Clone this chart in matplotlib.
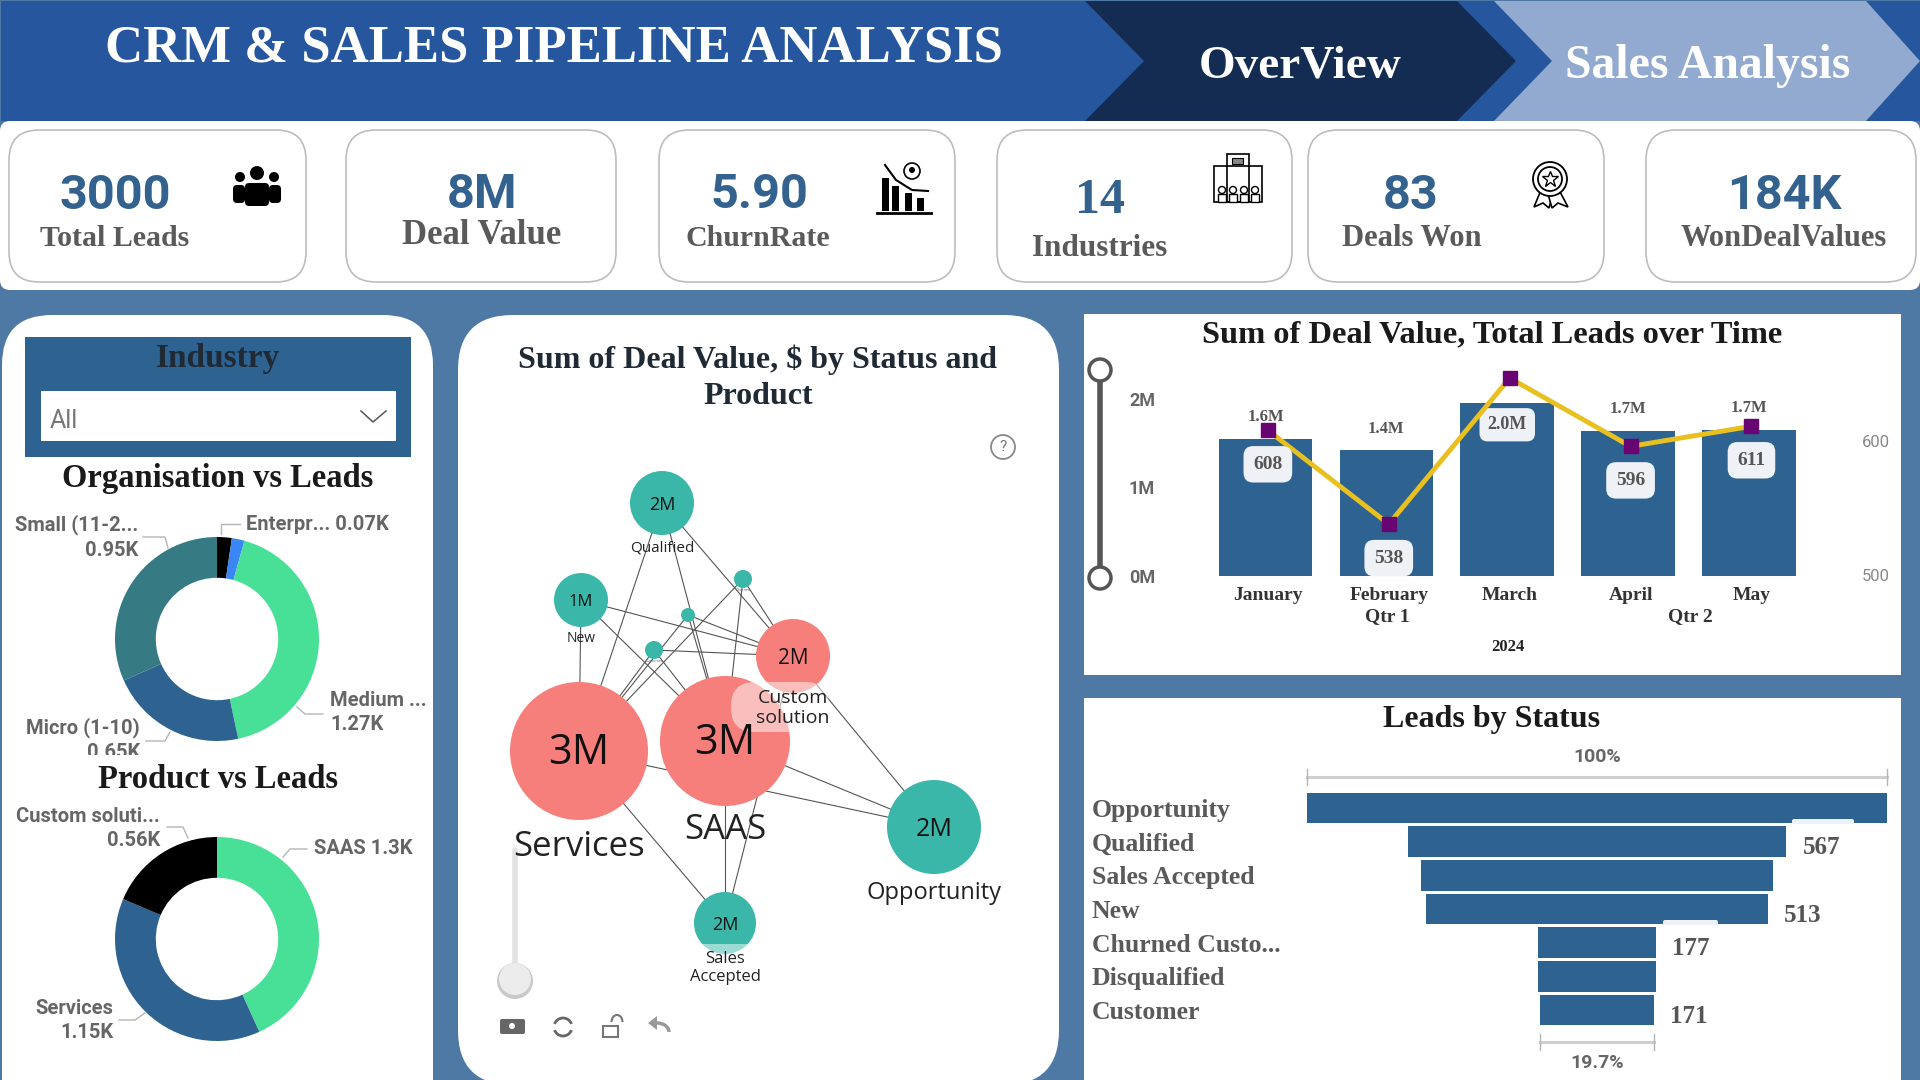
import matplotlib
matplotlib.use('Agg')
import matplotlib.pyplot as plt
from matplotlib.patches import Circle, FancyBboxPatch, Polygon, Rectangle, Arc

W, H = 1920, 1080

BG = '#4F79A5'
HEADER = '#26579E'
NAVY = '#142B52'
LIGHT = '#93AAD0'
BAR = '#2E6291'
GREEN = '#48E097'
TEAL = '#367B84'
SKY = '#3A86F5'
PINK = '#F67F7B'
NODE = '#3AB7A9'
NUM = '#34628F'
GRAY = '#5A5A5A'
SERIF = 'Liberation Serif'
SANS = 'Roboto'

# kpi row
kpi_values = ['3000', '8M', '5.90', '14', '83', '184K']
kpi_labels = ['Total Leads', 'Deal Value', 'ChurnRate', 'Industries', 'Deals Won', 'WonDealValues']

# donuts
org_names = ['Enterprise', 'Other', 'Medium', 'Micro (1-10)', 'Small (11-20)']
org_values = [0.07, 0.06, 1.27, 0.65, 0.95]
org_colors = ['black', SKY, GREEN, BAR, TEAL]
product_names = ['SAAS', 'Services', 'Custom solution']
product_values = [1.3, 1.15, 0.56]
product_colors = [GREEN, BAR, 'black']

# network
node_names = ['Services', 'SAAS', 'Custom\nsolution', 'Opportunity', 'Sales\nAccepted', 'Qualified', 'New']
node_values = ['3M', '3M', '2M', '2M', '2M', '2M', '1M']
small_nodes = ['Churned', 'Disqualified', 'Customer']

# combo chart
months = ['January', 'February', 'March', 'April', 'May']
deal_value = [1.55, 1.42, 1.96, 1.64, 1.65]
deal_labels = ['1.6M', '1.4M', '2.0M', '1.7M', '1.7M']
total_leads = [608, 538, 647, 596, 611]

# funnel
status_names = ['Opportunity', 'Qualified', 'Sales Accepted', 'New', 'Churned Custo...', 'Disqualified', 'Customer']
status_leads = [868, 567, 528, 513, 177, 176, 171]
status_shown = [567, 513, 177, 171]

fig = plt.figure(figsize=(W / 100, H / 100), dpi=100, facecolor=BG)


def px_axes(x0, y0, x1, y1):
    ax = fig.add_axes([x0 / W, 1 - y1 / H, (x1 - x0) / W, (y1 - y0) / H])
    ax.patch.set_alpha(0)
    return ax


base = px_axes(0, 0, W, H)
base.set_xlim(0, W)
base.set_ylim(H, 0)
base.axis('off')


def box(x0, y0, x1, y1, radius, color='white', edge='none', lw=0, zorder=1, alpha=1, target=None):
    (target or base).add_patch(FancyBboxPatch((x0, y0), x1 - x0, y1 - y0,
                                              boxstyle=f'round,pad=0,rounding_size={radius}',
                                              fc=color, ec=edge, lw=lw, zorder=zorder, alpha=alpha))


def label(x, y, s, size=14, color=GRAY, family=SERIF, weight='bold', ha='center', zorder=6):
    base.text(x, y + 2, s, fontsize=size, color=color, family=family, fontweight=weight,
              ha=ha, va='center', zorder=zorder, linespacing=1.1)


def leader(xs, ys):
    base.plot(xs, ys, color='#B5B5B5', lw=1, zorder=5)


# header
base.add_patch(Rectangle((1, 1), W, 120, fc=HEADER, ec='none'))
base.add_patch(Polygon([(1085, 1), (1457, 1), (1516, 61), (1457, 121), (1085, 121), (1144, 61)], fc=NAVY, ec='none', zorder=2))
base.add_patch(Polygon([(1494, 1), (1866, 1), (1920, 61), (1866, 121), (1494, 121), (1552, 61)], fc=LIGHT, ec='none', zorder=2))
label(554, 47, 'CRM & SALES PIPELINE ANALYSIS', size=38, color='white')
label(1300, 64, 'OverView', size=34, color='white')
label(1708, 64, 'Sales Analysis', size=34.4, color='white')

# kpi cards
box(0, 121, W, 290, 10)
card_edges = [(9, 306), (346, 616), (659, 955), (997, 1292), (1308, 1604), (1646, 1916)]
value_pos = [(115, 194), (482, 193), (759, 193), (1100, 199), (1411, 194), (1784, 194)]
label_pos = [(115, 236), (482, 234), (758, 236), (1100, 246), (1412, 236), (1784, 236)]
label_size = [21.5, 25, 21.5, 22.5, 22, 22]
for (x0, x1), v, t, vp, lp, ls in zip(card_edges, kpi_values, kpi_labels, value_pos, label_pos, label_size):
    box(x0, 130, x1, 282, 30, edge='#BDBDBD', lw=1.2, zorder=2)
    if v == '14':
        label(vp[0], vp[1], v, size=36, color=NUM, family=SERIF)
    else:
        label(vp[0], vp[1], v, size=35, color=NUM, family=SANS)
    label(lp[0], lp[1], t, size=ls)

# people icon
for cx, cy, r, x0, x1, y0, y1 in [(240, 177, 5, 233, 245, 185, 203), (274, 177, 5, 269, 281, 185, 203), (257, 173, 7, 245, 269, 183, 206)]:
    base.add_patch(Circle((cx, cy), r, fc='black', ec='none', zorder=4))
    box(x0, y0, x1, y1, 4, color='black', zorder=4)
# churn icon
for bx, top in zip([882, 892, 905, 917], [178, 186, 193, 198]):
    base.add_patch(Rectangle((bx, top), 7, 211 - top, fc='black', ec='none', zorder=4))
base.plot([877, 931], [213, 213], color='black', lw=2, zorder=4)
base.plot([885, 896, 912, 928], [165, 180, 190, 191], color='black', lw=1.5, zorder=5)
base.add_patch(Circle((912, 171), 8, fc='white', ec='black', lw=1.2, zorder=4))
base.add_patch(Circle((912, 170), 3, fc='black', ec='none', zorder=5))
# building icon
base.add_patch(Rectangle((1227, 154), 22, 48, fc='white', ec='black', lw=1.2, zorder=4))
base.add_patch(Rectangle((1214, 166), 48, 36, fc='none', ec='black', lw=1.2, zorder=4))
base.add_patch(Rectangle((1232, 158), 11, 6, fc='#888888', ec='black', lw=0.8, zorder=4))
for i in range(4):
    base.add_patch(Circle((1222 + i * 11, 190), 3.5, fc='white', ec='black', lw=1, zorder=5))
    base.add_patch(Rectangle((1218 + i * 11, 194), 8, 8, fc='white', ec='black', lw=1, zorder=5))
# award icon
base.add_patch(Polygon([(1541, 190), (1534, 207), (1543, 203), (1549, 208), (1553, 194)], fc='white', ec='black', lw=1.2, zorder=4))
base.add_patch(Polygon([(1559, 190), (1568, 207), (1558, 203), (1552, 208), (1548, 194)], fc='white', ec='black', lw=1.2, zorder=4))
base.add_patch(Circle((1550, 179), 17, fc='white', ec='black', lw=1.3, zorder=5))
base.add_patch(Circle((1550, 179), 12, fc='white', ec='black', lw=1.3, zorder=5))
base.plot([1550], [179], marker='*', ms=12, mfc='white', mec='black', zorder=6)

# left panel
box(2, 315, 433, 1140, 50)
base.add_patch(Rectangle((25, 337), 386, 120, fc=BAR, ec='none', zorder=2))
base.add_patch(Rectangle((41, 391), 355, 50, fc='white', ec='none', zorder=3))
label(218, 357, 'Industry', size=24, color='#1F2A35')
label(50, 419, 'All', size=18, color='#777777', family=SANS, weight='normal', ha='left')
base.plot([361, 373, 386], [411, 422, 411], color='#555555', lw=1.1, zorder=4)
label(218, 477, 'Organisation vs Leads', size=23.5, color='#1A1A1A')
label(218, 777, 'Product vs Leads', size=23.5, color='#1A1A1A', zorder=8)


def donut(cy, values, colors):
    ax = px_axes(217 - 102, cy - 102, 217 + 102, cy + 102)
    ax.pie(values, colors=colors, startangle=90, counterclock=False, radius=1,
           wedgeprops={'width': 0.4, 'linewidth': 0})
    ax.set_xlim(-1, 1)
    ax.set_ylim(-1, 1)


donut(639, org_values, org_colors)
donut(939, product_values, product_colors)

kw = dict(size=14.5, family=SANS, color='#666666')
label(138, 523, 'Small (11-2...', ha='right', **kw)
label(138, 548, f'{org_values[4]}K', ha='right', **kw)
leader([143, 165, 168], [537, 537, 548])
label(246, 522, f'Enterpr... {org_values[0]}K', ha='left', **kw)
leader([240, 221, 221], [524, 524, 534])
label(330, 699, 'Medium ...', ha='left', **kw)
label(330, 723, f'{org_values[2]}K', ha='left', **kw)
leader([297, 305, 323], [707, 714, 714])
label(140, 726, org_names[3], ha='right', **kw)
label(140, 751, f'{org_values[3]}K', ha='right', **kw)
leader([146, 165, 170], [741, 741, 732])
base.add_patch(Rectangle((60, 755), 120, 10, fc='white', ec='none', zorder=7))
label(160, 815, 'Custom soluti...', ha='right', **kw)
label(160, 838, f'{product_values[2]}K', ha='right', **kw)
leader([167, 183, 188], [827, 827, 838])
label(314, 846, f'{product_names[0]} {product_values[0]}K', ha='left', **kw)
leader([307, 290, 283], [849, 849, 857])
label(113, 1006, product_names[1], ha='right', **kw)
label(113, 1030, f'{product_values[1]}K', ha='right', **kw)
leader([119, 135, 145], [1020, 1020, 1013])

# network panel
box(458, 315, 1059, 1085, 55)
label(758, 358, 'Sum of Deal Value, $ by Status and', size=23, color='#1F2A35')
label(758, 394, 'Product', size=23, color='#1F2A35')
base.add_patch(Circle((1003, 447), 12, fc='white', ec='#888888', lw=1.3, zorder=3))
label(1003, 445, '?', size=11, color='#777777', family=SANS, weight='normal')

node_xy = {'Services': (579, 751), 'SAAS': (725, 741), 'Custom\nsolution': (793, 656), 'Opportunity': (934, 827),
           'Sales\nAccepted': (725, 923), 'Qualified': (662, 503), 'New': (581, 600),
           'Churned': (743, 579), 'Disqualified': (688, 615), 'Customer': (654, 650)}
node_r = [69, 65, 37, 47, 31, 32, 27]
node_size = [30, 30, 15, 18, 13, 13, 12]
name_size = [25, 25, 14, 17, 12, 11, 10]
name_y = [845, 828, 706, 891, 966, 546, 637]

products = node_names[:3]
for status in node_names[3:] + small_nodes:
    for product in products:
        a, b = node_xy[status], node_xy[product]
        base.plot([a[0], b[0]], [a[1], b[1]], color='#555555', lw=0.8, zorder=2)

for name, val, r, s, ns, ny in zip(node_names, node_values, node_r, node_size, name_size, name_y):
    x, y = node_xy[name]
    color = PINK if name in products else NODE
    base.add_patch(Circle((x, y), r, fc=color, ec='none', zorder=3))
    label(x, y, val, size=s, color='#111111', family='Open Sans', weight='normal')
    label(x, ny, name, size=ns, color='#222222', family='Open Sans', weight='normal')
# label backdrops
box(731, 682, 829, 732, 24, zorder=4, alpha=0.5)
box(694, 944, 756, 954, 5, zorder=4, alpha=0.5)
for name, r in zip(small_nodes, [9, 7, 9]):
    x, y = node_xy[name]
    base.add_patch(Circle((x, y), r, fc=NODE, ec='none', zorder=3))
    if r == 9:
        base.text(x, y + r + 2, name, fontsize=2.5, color='#666666', ha='center', va='center', zorder=6)

# zoom slider and toolbar
base.plot([515, 515], [850, 968], color='#E3E3E3', lw=4, solid_capstyle='round', zorder=3)
base.add_patch(Circle((515, 981), 18, fc='#C9C9C9', ec='none', zorder=4))
base.add_patch(Circle((515, 979), 16, fc='#ECECEC', ec='none', zorder=5))
box(500, 1019, 525, 1034, 2, color='#666666', zorder=4)
base.add_patch(Circle((512, 1026), 3, fc='white', ec='none', zorder=5))
base.add_patch(Arc((563, 1027), 18, 18, theta1=20, theta2=160, color='#666666', lw=2, zorder=4))
base.add_patch(Arc((563, 1027), 18, 18, theta1=200, theta2=340, color='#666666', lw=2, zorder=4))
base.add_patch(Rectangle((603, 1026), 15, 11, fc='white', ec='#777777', lw=1.5, zorder=4))
base.add_patch(Arc((617, 1022), 11, 14, theta1=180, theta2=360, color='#777777', lw=1.5, zorder=4))
base.add_patch(Polygon([(648, 1023), (657, 1016), (657, 1030)], fc='#999999', ec='none', zorder=4))
base.add_patch(Arc((657, 1032), 24, 18, theta1=270, theta2=360, color='#999999', lw=2.5, zorder=4))

# combo panel
base.add_patch(Rectangle((1084, 314), 817, 361, fc='white', ec='none'))
label(1492, 333, 'Sum of Deal Value, Total Leads over Time', size=23.3, color='#1A1A1A')
base.plot([1100, 1100], [370, 578], color='#555555', lw=4, zorder=3)
for sy in [370, 578]:
    base.add_patch(Circle((1100, sy), 11, fc='white', ec='#555555', lw=2.5, zorder=4))

ax = px_axes(1205, 345, 1809.5, 576)
ax.bar(range(len(months)), deal_value, width=0.775, color=BAR)
ax.set_xlim(-0.5, 4.5)
ax.set_ylim(0, 231 / 88.5)
ax.set_yticks([0, 1, 2], ['0M', '1M', '2M'], family=SANS, fontweight='bold', fontsize=13, color='#666666')
# months and the line sit slightly right of the bar centres in the original
shifted = [i + 0.02 for i in range(len(months))]
ax.set_xticks(shifted, months, family=SERIF, fontweight='bold', fontsize=14, color='#333333')
ax.tick_params(axis='y', length=0, pad=36)
ax.tick_params(axis='x', length=0, pad=8)
for s in ax.spines.values():
    s.set_visible(False)
for i, (v, t) in enumerate(zip(deal_value, deal_labels)):
    if t == '2.0M':
        ax.annotate(t, (i, v), xytext=(0, -16), textcoords='offset points', ha='center', va='center',
                    family=SERIF, fontweight='bold', fontsize=13, color='#555555', zorder=8,
                    bbox=dict(boxstyle='round,pad=0.45', fc='#EEF1F6', ec='none'))
    else:
        ax.annotate(t, (i, v), xytext=(0, 15.5), textcoords='offset points', ha='center', va='center',
                    family=SERIF, fontweight='bold', fontsize=12, color='#555555')

ax2 = ax.twinx()
ax2.patch.set_alpha(0)
ax2.plot(shifted, total_leads, color='#E8C020', lw=3.5, marker='s', ms=10.5, mfc='#680573', mec='#680573', zorder=5)
ax2.set_ylim(499.25, 499.25 + 231 / 1.34)
ax2.set_yticks([500, 600], ['500', '600'], family=SANS, fontsize=12, color='#888888')
ax2.tick_params(axis='y', length=0, pad=38)
for s in ax2.spines.values():
    s.set_visible(False)
for x, v in zip(shifted, total_leads):
    if v == 647:
        continue
    ax2.annotate(str(v), (x, v), xytext=(0, -24.5), textcoords='offset points', ha='center', va='center',
                 family=SERIF, fontweight='bold', fontsize=14, color='#555555', zorder=8,
                 bbox=dict(boxstyle='round,pad=0.5', fc='#EEF1F6', ec='none'))
label(1387, 615, 'Qtr 1', size=14, color='#333333')
label(1690, 615, 'Qtr 2', size=14, color='#333333')
label(1508, 645, '2024', size=12, color='#222222')

# funnel panel
base.add_patch(Rectangle((1084, 698), 817, 385, fc='white', ec='none'))
label(1492, 718, 'Leads by Status', size=23, color='#1A1A1A')
label(1597, 755, '100%', size=14, family=SANS, color='#666666')
label(1597, 1061, '19.7%', size=14, family=SANS, color='#666666')
for x0, x1, by in [(1307, 1887, 777), (1540, 1654, 1042)]:
    base.plot([x0, x1], [by, by], color='#CFCFCF', lw=2.2, zorder=2)
    base.plot([x0, x0], [by - 8, by + 8], color='#B5B5B5', lw=1, zorder=2)
    base.plot([x1, x1], [by - 8, by + 8], color='#B5B5B5', lw=1, zorder=2)

fx = px_axes(1307, 791, 1887, 1027)
ypos = list(range(len(status_names)))
fx.barh(ypos, status_leads, left=[-v / 2 for v in status_leads], height=0.91, color=BAR)
fx.set_xlim(-434, 434)
fx.set_ylim(6.5, -0.5)
fx.set_xticks([])
fx.set_yticks(ypos, status_names, family=SERIF, fontweight='bold', fontsize=18.5, color='#5A5A5A')
for t in fx.get_yticklabels():
    t.set_ha('left')
fx.tick_params(axis='y', length=0, pad=155)
for s in fx.spines.values():
    s.set_visible(False)
for i, v in enumerate(status_leads):
    if v in status_shown:
        fx.annotate(str(v), (v / 2, i), xytext=(25, -4.5), textcoords='offset points', ha='center', va='center',
                    family=SERIF, fontweight='bold', fontsize=18, color='#555555')

# pills of the labels that are hidden behind the next bar
top = px_axes(0, 0, W, H)
top.set_xlim(0, W)
top.set_ylim(H, 0)
top.axis('off')
box(1792, 819, 1854, 824, 2, color='#EEF1F6', target=top)
box(1663, 920, 1718, 925, 2, color='#EEF1F6', target=top)

fig.savefig('out.png', dpi=100, facecolor=BG)
